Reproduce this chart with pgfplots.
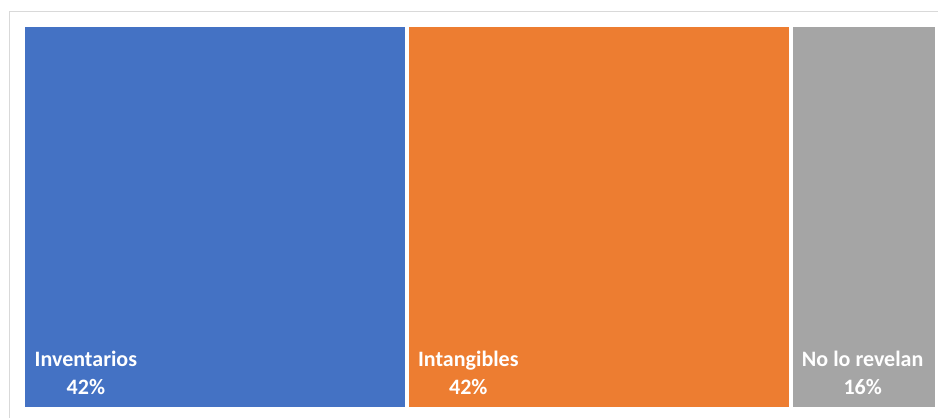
\documentclass[border=0pt]{standalone}
\usepackage{pgfplots}
\pgfplotsset{compat=1.18}
\usepackage{fontspec}
\setmainfont{Carlito}
\definecolor{cblue}{HTML}{4472C4}
\definecolor{corange}{HTML}{ED7D31}
\definecolor{cgray}{HTML}{A5A5A5}
\definecolor{cframe}{HTML}{D9D9D9}
\begin{document}
\begin{tikzpicture}[x=1bp,y=-1bp]
\path[use as bounding box, clip] (0,0) rectangle (938,417);
\draw[cframe, line width=1bp] (9.5,11.5) rectangle (980,460);
\begin{axis}[
  at={(23bp,-25bp)}, anchor=north west,
  width=914bp, height=384bp, scale only axis,
  xmin=0, xmax=100, ymin=0, ymax=100,
  hide axis, clip=false,
]
\addplot[fill=cblue, draw=white, line width=4bp] coordinates {(0,0) (42,0) (42,100) (0,100)} -- cycle;
\addplot[fill=corange, draw=white, line width=4bp] coordinates {(42,0) (84,0) (84,100) (42,100)} -- cycle;
\addplot[fill=cgray, draw=white, line width=4bp] coordinates {(84,0) (100,0) (100,100) (84,100)} -- cycle;
\begin{scope}[every node/.style={anchor=south west, inner sep=0pt, align=center, text=white, font=\fontsize{22bp}{28bp}\selectfont\bfseries}]
\node at (axis cs:0,0) [xshift=11.5bp, yshift=14bp] {Inventarios\\42\%};
\node at (axis cs:42,0) [xshift=11bp, yshift=14bp] {Intangibles\\42\%};
\node at (axis cs:84,0) [xshift=11bp, yshift=14bp] {No lo revelan\\16\%};
\end{scope}
\end{axis}
\end{tikzpicture}
\end{document}
